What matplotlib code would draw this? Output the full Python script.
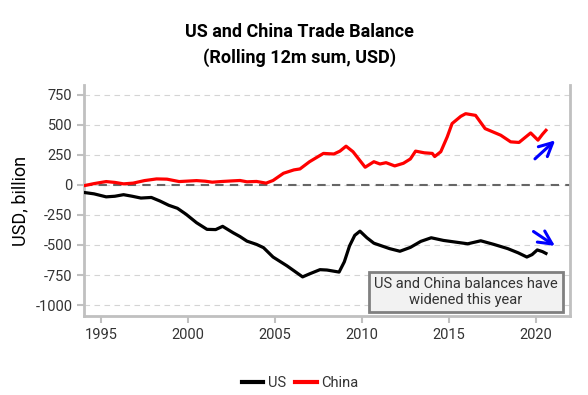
import matplotlib
matplotlib.use('Agg')
import matplotlib.pyplot as plt
import numpy as np

plt.rcParams['font.family'] = ['Roboto', 'DejaVu Sans']
plt.rcParams['axes.unicode_minus'] = False

# -- data ----------------------------------------------------------------------

us_years = [1994.1, 1994.6, 1995.3, 1995.8, 1996.3, 1996.8, 1997.3, 1997.9,
            1998.4, 1998.9, 1999.4, 1999.9, 2000.5, 2001.1, 2001.6, 2002.0,
            2002.6, 2003.0, 2003.4, 2003.95, 2004.35, 2004.9, 2005.7, 2006.6,
            2007.0, 2007.6, 2008.0, 2008.7, 2009.0, 2009.3, 2009.6, 2009.9,
            2010.3, 2010.7, 2011.6, 2012.2, 2012.8, 2013.4, 2014.0, 2014.7,
            2015.7, 2016.1, 2016.85, 2017.6, 2018.4, 2019.0, 2019.5, 2019.8,
            2020.1, 2020.4, 2020.6]
us_values = [-65, -75, -100, -95, -82, -95, -110, -105,
             -135, -170, -195, -245, -315, -370, -372, -345,
             -398, -430, -468, -495, -522, -600, -673, -765,
             -740, -705, -708, -725, -640, -508, -420, -385,
             -440, -485, -530, -552, -520, -470, -440, -462,
             -482, -490, -465, -495, -530, -565, -600, -580,
             -541, -555, -570]

china_years = [1994.1, 1994.6, 1995.3, 1995.8, 1996.3, 1996.85, 1997.5, 1998.2,
               1998.8, 1999.5, 2000.5, 2001.0, 2001.4, 2002.0, 2002.6, 2003.0,
               2003.4, 2003.95, 2004.5, 2004.9, 2005.5, 2006.1, 2006.45, 2007.0,
               2007.8, 2008.4, 2008.75, 2009.1, 2009.5, 2010.2, 2010.7, 2011.05,
               2011.4, 2011.9, 2012.4, 2012.8, 2013.1, 2013.6, 2014.06, 2014.2,
               2014.55, 2014.92, 2015.2, 2015.7, 2015.98, 2016.55, 2017.1, 2018.0,
               2018.57, 2019.05, 2019.72, 2020.14, 2020.4, 2020.6]
china_values = [-5, 10, 27, 20, 8, 14, 35, 49,
                47, 27, 35, 30, 22, 28, 33, 36,
                25, 28, 14, 36, 96, 124, 132, 192,
                261, 256, 280, 321, 275, 146, 192, 173,
                184, 157, 179, 215, 280, 266, 261, 235,
                275, 398, 509, 569, 591, 577, 467, 412,
                357, 352, 431, 371, 420, 453]

x_ticks = [1995, 2000, 2005, 2010, 2015, 2020]
y_ticks = [-1000, -750, -500, -250, 0, 250, 500, 750]

note = 'US and China balances have\nwidened this year'

# -- plot ----------------------------------------------------------------------

fig = plt.figure(figsize=(5.88, 3.95), dpi=100)
ax = fig.add_axes([0.143, 0.2, 0.826, 0.585])

ax.plot(us_years, us_values, color='black', lw=2.3, label='US', zorder=3)
ax.plot(china_years, china_values, color='#ff0000', lw=2.3, label='China',
        zorder=3)
ax.axhline(0, color='#666666', lw=1.5, ls=(0, (4, 3)), zorder=2)

ax.set_xlim(1994.03, 2021.97)
ax.set_ylim(-1090, 830)
ax.set_xticks(x_ticks)
ax.set_yticks(y_ticks)
ax.grid(axis='y', color='#d4d4d4', lw=0.8, ls=(0, (5, 4)))
ax.set_axisbelow(True)

for side in ['left', 'bottom', 'right']:
  ax.spines[side].set_color('#c0c0c0')
  ax.spines[side].set_linewidth(2)
ax.spines['top'].set_visible(False)
ax.tick_params(axis='both', colors='#c0c0c0', labelcolor='#333333',
               labelsize=10.5, length=5, width=1.5)
ax.set_ylabel('USD, billion', fontsize=13, color='black', labelpad=4)

ax.text(2016.0, -890, note, ha='center', va='center', fontsize=10.5,
        color='#333333', zorder=5,
        bbox=dict(boxstyle='square,pad=0.35', fc='#f2f2f2', ec='#808080',
                  lw=2))

arrow = dict(arrowstyle='->', color='#0000ff', lw=2.2, mutation_scale=24)
ax.annotate('', xy=(2021.25, 385), xytext=(2019.85, 200), arrowprops=arrow)
ax.annotate('', xy=(2021.25, -520), xytext=(2019.75, -375), arrowprops=arrow)

fig.text(0.51, 0.918, 'US and China Trade Balance', ha='center', va='center',
         fontsize=13, fontweight='bold')
fig.text(0.51, 0.853, '(Rolling 12m sum, USD)', ha='center', va='center',
         fontsize=13, fontweight='bold')

leg = fig.legend(loc='center', bbox_to_anchor=(0.51, 0.03), ncol=2,
                 frameon=False, fontsize=10.5, handlelength=1.5,
                 handletextpad=0.3, columnspacing=0.6, labelcolor='#333333')
for line in leg.get_lines():
  line.set_linewidth(3)

fig.savefig('out.png', dpi=100, facecolor='white')
